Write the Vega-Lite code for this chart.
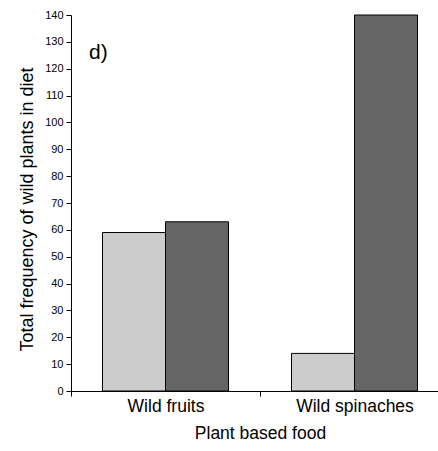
{
  "$schema": "https://vega.github.io/schema/vega-lite/v6.json",
  "autosize": "none",
  "width": 378,
  "height": 376,
  "padding": {"left": 71, "top": 15, "right": 0, "bottom": 60},
  "background": "white",
  "title": {"text": "d)", "orient": "top", "anchor": "start", "frame": "group", "baseline": "alphabetic", "offset": 0, "dx": 18, "dy": 71, "fontSize": 21, "fontWeight": "normal", "font": "Liberation Sans", "color": "black"},
  "data": {"values": [
    {"food": "Wild fruits", "group": "A", "value": 59},
    {"food": "Wild fruits", "group": "B", "value": 63},
    {"food": "Wild spinaches", "group": "A", "value": 14},
    {"food": "Wild spinaches", "group": "B", "value": 140}
  ]},
  "mark": {"type": "bar", "stroke": "black", "strokeWidth": 1},
  "encoding": {
    "x": {"field": "food", "type": "nominal", "title": "Plant based food",
      "scale": {"paddingInner": 0, "paddingOuter": 0},
      "axis": {"labelAngle": 0, "tickBand": "extent", "tickSize": 5, "labelPadding": 1, "titlePadding": 10}},
    "xOffset": {"field": "group", "type": "nominal", "scale": {"paddingInner": 0, "paddingOuter": 0.5}},
    "y": {"field": "value", "type": "quantitative", "title": "Total frequency of wild plants in diet",
      "scale": {"domain": [0, 140], "nice": false},
      "axis": {"values": [0,10,20,30,40,50,60,70,80,90,100,110,120,130,140], "grid": false, "tickSize": 5, "labelPadding": 3, "labelFontSize": 11, "titlePadding": 8, "titleFontSize": 18, "titleY": 194}},
    "color": {"field": "group", "type": "nominal", "legend": null,
      "scale": {"domain": ["A", "B"], "range": ["#cccccc", "#666666"]}}
  },
  "config": {
    "view": {"stroke": null},
    "font": "Liberation Sans",
    "axis": {"domainColor": "black", "tickColor": "black", "labelColor": "black", "titleColor": "black",
      "labelFont": "Liberation Sans", "titleFont": "Liberation Sans", "labelFontSize": 17.5, "titleFontSize": 17.5, "titleFontWeight": "normal"}
  }
}
